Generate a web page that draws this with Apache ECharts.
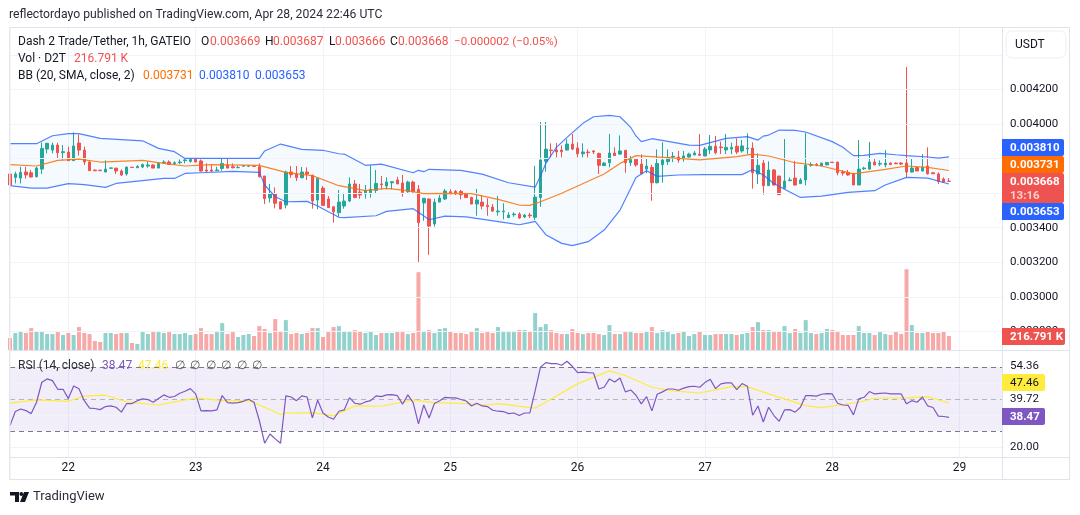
<!DOCTYPE html>
<html><head><meta charset="utf-8">
<style>html,body{margin:0;padding:0;background:#fff}#c{width:1080px;height:515px}</style>
<script src="https://cdn.jsdelivr.net/npm/echarts@6/dist/echarts.min.js"></script>
</head><body><div id="c"></div>
<script>
// Prices are in millionths of USDT (3669 = 0.003669)
const opens=[3711,3691,3687,3722,3718,3695,3739,3855,3849,3878,3834,3838,3788,3890,3849,3780,3733,3733,3722,3744,3745,3728,3711,3750,3747,3751,3757,3763,3745,3776,3780,3770,3776,3788,3784,3797,3786,3734,3734,3730,3743,3763,3753,3747,3756,3756,3756,3753,3699,3572,3595,3550,3531,3722,3711,3689,3722,3703,3560,3629,3566,3521,3487,3525,3554,3653,3606,3595,3602,3616,3653,3641,3660,3676,3658,3608,3664,3622,3543,3566,3421,3548,3566,3608,3610,3610,3595,3575,3537,3548,3529,3519,3492,3492,3458,3475,3479,3462,3473,3460,3574,3784,3849,3849,3849,3849,3884,3861,3828,3838,3844,3830,3759,3776,3832,3826,3848,3776,3795,3768,3739,3749,3660,3765,3782,3809,3809,3803,3809,3821,3826,3815,3850,3871,3867,3850,3855,3871,3844,3857,3861,3711,3774,3643,3734,3699,3628,3672,3687,3655,3676,3761,3766,3757,3763,3779,3780,3722,3720,3714,3647,3741,3739,3780,3768,3763,3774,3774,3774,3774,3722,3749,3728,3757,3718,3711,3682,3669];
const closes=[3647,3711,3720,3705,3693,3745,3859,3888,3878,3834,3840,3788,3873,3849,3780,3730,3729,3730,3739,3746,3728,3705,3751,3748,3755,3765,3763,3745,3772,3780,3766,3776,3780,3792,3795,3780,3728,3728,3728,3734,3772,3745,3747,3749,3758,3758,3754,3695,3568,3595,3541,3508,3722,3707,3689,3722,3711,3554,3684,3529,3516,3492,3548,3554,3653,3575,3589,3616,3622,3656,3649,3664,3666,3653,3604,3664,3608,3429,3570,3409,3548,3572,3612,3602,3601,3591,3574,3537,3560,3525,3521,3496,3496,3496,3473,3479,3456,3473,3469,3577,3792,3855,3846,3838,3840,3884,3855,3828,3838,3834,3838,3761,3774,3832,3817,3844,3776,3794,3763,3712,3757,3660,3772,3792,3807,3813,3792,3815,3826,3832,3819,3855,3871,3834,3863,3865,3865,3838,3873,3861,3718,3761,3643,3734,3647,3591,3670,3676,3647,3676,3761,3766,3763,3774,3778,3777,3718,3716,3705,3647,3739,3745,3780,3763,3772,3774,3765,3770,3768,3722,3745,3728,3749,3712,3712,3668,3664,3668];
const highs=[3772,3724,3753,3753,3734,3753,3892,3892,3892,3892,3878,3869,3952,3940,3869,3788,3738,3735,3790,3747,3745,3738,3753,3751,3761,3772,3782,3768,3780,3790,3790,3784,3795,3801,3803,3799,3795,3772,3761,3753,3799,3799,3772,3759,3759,3761,3757,3772,3699,3653,3633,3554,3730,3757,3757,3751,3749,3707,3684,3641,3583,3521,3618,3602,3691,3676,3653,3647,3761,3734,3699,3691,3670,3695,3705,3672,3672,3647,3570,3570,3568,3589,3624,3622,3618,3618,3595,3579,3624,3589,3570,3537,3583,3541,3489,3489,3489,3479,3485,3757,4012,4012,3888,3890,3877,3911,3942,3894,3888,3853,3849,3834,3780,3942,3865,3934,3849,3815,3795,3824,3801,3763,3853,3894,3853,3838,3844,3844,3834,3844,3942,3867,3936,3931,3898,3942,3892,3917,3907,3946,3894,3830,3792,3784,3739,3699,3913,3691,3786,3687,3950,3778,3774,3774,3778,3779,3780,3734,3734,3714,3907,3753,3896,3797,3790,3849,3778,3778,3780,4330,3803,3751,3826,3865,3720,3720,3691,3687];
const lows=[3647,3656,3656,3684,3691,3691,3711,3830,3830,3801,3788,3788,3786,3817,3763,3730,3728,3729,3722,3743,3711,3699,3701,3747,3745,3745,3747,3745,3745,3768,3765,3763,3768,3772,3776,3780,3724,3722,3722,3728,3730,3743,3743,3745,3755,3753,3753,3691,3537,3545,3512,3508,3512,3689,3670,3687,3676,3510,3506,3529,3514,3429,3463,3510,3550,3570,3568,3568,3574,3599,3622,3622,3622,3653,3579,3602,3602,3197,3440,3243,3406,3548,3560,3593,3589,3564,3572,3535,3469,3506,3469,3492,3469,3448,3456,3463,3450,3456,3456,3444,3521,3724,3807,3807,3807,3849,3849,3807,3807,3807,3826,3711,3757,3749,3815,3821,3718,3757,3753,3711,3714,3556,3656,3660,3763,3780,3776,3782,3805,3821,3815,3815,3826,3824,3826,3826,3826,3826,3834,3826,3626,3653,3591,3643,3643,3591,3626,3670,3643,3653,3645,3753,3755,3757,3763,3777,3703,3701,3701,3647,3647,3734,3734,3763,3757,3749,3763,3768,3763,3691,3720,3728,3726,3707,3711,3653,3662,3666];
// Volumes in thousands
const volumes=[186,264,279,264,341,295,295,248,248,279,233,264,233,357,264,248,140,124,264,264,248,264,264,109,93,279,248,279,279,264,279,248,248,264,233,248,341,248,248,279,419,248,279,202,233,248,217,372,326,264,481,279,465,248,264,248,264,341,341,202,279,357,372,295,279,310,279,264,295,233,264,264,264,279,279,248,264,1210,279,310,264,326,341,295,264,264,248,279,341,264,295,264,357,279,279,279,310,310,279,574,357,403,310,264,248,248,326,264,248,264,264,248,233,388,248,248,279,279,264,264,279,357,264,310,279,248,264,295,217,248,295,233,233,248,248,248,248,233,248,264,357,434,310,310,279,295,372,264,326,264,465,264,248,264,326,310,279,233,233,233,372,264,264,233,279,248,233,279,248,1256,388,264,264,295,264,264,295,217];
const rsi=[33.3,42.1,43.7,42.7,40.8,47.9,60.4,62.5,61.4,56.0,56.0,50.2,58.1,56.4,48.9,44.2,44.0,43.3,45.2,45.6,44.8,41.7,47.1,47.1,48.9,50.0,49.6,47.9,50.2,52.5,51.0,51.5,53.5,54.8,56.4,53.1,42.5,42.7,42.5,43.1,52.1,47.7,47.3,47.7,48.5,49.8,47.9,36.5,22.3,28.1,25.0,22.3,51.9,51.2,48.9,51.9,51.2,38.1,49.2,41.2,38.7,37.3,42.3,43.1,50.8,47.3,46.7,48.1,48.9,51.9,51.4,52.5,52.7,52.1,46.7,52.5,47.7,34.4,46.2,38.1,47.1,48.9,51.0,50.6,50.6,49.6,48.7,45.6,47.3,45.6,45.2,42.9,42.3,42.1,40.8,41.2,39.6,41.2,41.2,55.2,69.8,72.7,72.1,72.1,71.0,73.5,70.4,66.4,66.7,66.4,66.2,56.2,57.3,62.5,60.6,63.1,54.4,55.6,52.3,46.9,51.4,42.5,52.9,54.4,56.2,56.2,55.4,56.7,57.7,57.9,57.3,60.2,62.3,56.4,59.4,60.0,60.0,55.8,59.6,57.9,39.8,45.6,35.6,44.8,39.6,36.0,43.1,43.3,41.7,44.8,52.1,52.1,51.7,52.9,53.3,53.1,47.3,46.2,46.0,40.0,50.0,51.0,54.6,53.1,53.5,53.7,53.1,53.1,53.1,46.9,48.9,47.9,51.2,45.6,44.6,39.2,39.0,38.47];
// Read vertices: [candle index, value]
const bbUpper=[[0,3886],[5,3886],[8,3932],[11,3944],[13,3944],[17,3917],[25,3903],[28,3859],[31,3840],[33,3801],[47,3801],[48,3844],[51,3884],[55,3853],[59,3848],[62,3828],[63,3826],[67,3761],[70,3768],[76,3718],[77,3732],[78,3724],[79,3738],[85,3732],[89,3710],[94,3660],[99,3635],[100,3699],[101,3772],[103,3865],[105,3923],[108,4004],[110,4042],[113,4050],[115,4042],[117,3981],[118,3931],[119,3898],[121,3915],[124,3900],[128,3878],[130,3876],[135,3917],[139,3927],[141,3907],[142,3930],[143,3936],[145,3965],[148,3963],[150,3954],[155,3898],[157,3865],[159,3817],[161,3819],[164,3830],[167,3822],[169,3817],[173,3809],[175,3803],[177,3810]];
const bbLower=[[0,3643],[4,3629],[7,3629],[11,3655],[14,3649],[18,3633],[20,3656],[25,3672],[29,3685],[31,3685],[33,3714],[36,3718],[42,3726],[47,3720],[48,3647],[50,3579],[52,3550],[56,3552],[58,3525],[60,3492],[62,3460],[63,3458],[69,3469],[71,3494],[76,3510],[77,3489],[79,3446],[82,3467],[86,3463],[93,3431],[96,3417],[98,3429],[99,3436],[101,3359],[104,3309],[106,3296],[109,3319],[112,3386],[115,3502],[117,3627],[118,3691],[120,3730],[122,3697],[126,3705],[131,3707],[138,3707],[140,3737],[142,3705],[144,3656],[146,3622],[149,3575],[153,3583],[158,3604],[163,3614],[165,3647],[169,3691],[173,3687],[177,3653]];
const bbBasis=[[0,3765],[5,3757],[9,3790],[13,3797],[17,3780],[25,3790],[29,3772],[33,3757],[38,3765],[47,3761],[52,3720],[57,3701],[62,3643],[67,3614],[71,3628],[75,3614],[78,3597],[82,3599],[87,3597],[92,3564],[96,3531],[98,3529],[100,3550],[104,3599],[112,3711],[115,3772],[118,3817],[121,3811],[126,3801],[130,3792],[137,3811],[140,3826],[143,3815],[148,3776],[153,3757],[159,3711],[165,3737],[169,3757],[173,3749],[177,3731]];
const rsiMA=[[0,47.3],[5,49.4],[11,48.5],[14,51.7],[18,52.3],[22,48.1],[28,46.2],[35,50.6],[40,48.9],[45,48.9],[48,44.8],[51,40.2],[52,41.2],[57,41.4],[61,39.4],[65,45.6],[70,45.4],[76,49.4],[80,47.7],[86,47.1],[90,46.2],[92,47.1],[99,44.2],[107,59.4],[113,67.5],[116,64.6],[121,57.3],[125,55.0],[130,53.7],[136,57.7],[139,57.7],[143,53.1],[150,45.8],[153,44.6],[160,47.9],[163,50.4],[169,50.6],[173,51.4],[177,47.46]];
const dayTicks=['22','23','24','25','26','27','28','29'];
const priceTicks=[2800,3000,3200,3400,3600,3800,4000,4200,4400];
const rsiGrid=[20,40,60];

const UP='#26a69a',DOWN='#ef5350',GRIDC='#f0f3fa',BORDER='#e0e3eb',TXT='#131722',FONT='Roboto';
const HOURS=188, FIRST_MIDNIGHT=11;
const categories=[];
for(let i=0;i<HOURS;i++){const k=i-FIRST_MIDNIGHT;categories.push(k>=0&&k%24===0?(dayTicks[k/24]||''):'h'+i);}
const isDay=(i)=>(i-FIRST_MIDNIGHT)>=0&&(i-FIRST_MIDNIGHT)%24===0;

const chart=echarts.init(document.getElementById('c'),null,{renderer:'canvas'});
function xAxisOf(g,showLabel){return {type:'category',gridIndex:g,data:categories,boundaryGap:false,
  axisLine:{show:false},axisTick:{show:false},
  axisLabel:{show:showLabel,interval:(i)=>isDay(i),color:TXT,fontFamily:FONT,fontSize:12,margin:4,hideOverlap:false},
  splitLine:{show:g!==1,interval:(i)=>isDay(i),lineStyle:{color:GRIDC,width:1}}};}
function txt(x,y,t,color,opt){return Object.assign({type:'text',x,y,z:110,silent:true,
  style:Object.assign({text:t,fill:color||TXT,font:'12px '+FONT,textVerticalAlign:'middle',textAlign:'left'},opt||{})});}
function tag(x,y,w,h,fill){return {type:'rect',z:105,silent:true,shape:{x,y,width:w,height:h,r:[0,2,2,0]},style:{fill}};}
function line(x1,y1,x2,y2,color){return {type:'line',z:104,silent:true,shape:{x1,y1,x2,y2},style:{stroke:color||BORDER,lineWidth:1}};}

chart.setOption({
 animation:false,backgroundColor:'#fff',
 textStyle:{fontFamily:FONT},
 grid:[
  {left:10,right:78,top:27.3,height:323},
  {left:10,right:78,top:260,height:90},
  {left:10,right:78,top:350.9,height:107.2}],
 xAxis:[xAxisOf(0,false),xAxisOf(1,false),xAxisOf(2,true)],
 yAxis:[
  {type:'value',gridIndex:0,position:'right',min:2690,max:4560,interval:10,scale:true,
   axisLine:{show:false},axisTick:{show:false},splitLine:{show:false},
   axisLabel:{margin:8,color:TXT,fontFamily:FONT,fontSize:11.5,hideOverlap:false,showMinLabel:false,showMaxLabel:false,
     formatter:(v)=>{const r=Math.round(v);return (r<=4200&&priceTicks.includes(r))?(r/1e6).toFixed(6):'';}}},
  {type:'value',gridIndex:1,min:0,max:1400,axisLine:{show:false},axisTick:{show:false},splitLine:{show:false},axisLabel:{show:false}},
  {type:'value',gridIndex:2,min:13,max:80,axisLine:{show:false},axisTick:{show:false},splitLine:{show:false},axisLabel:{show:false}}],
 series:[
  {type:'line',xAxisIndex:0,yAxisIndex:0,data:[],silent:true,z:1,
   markLine:{silent:true,symbol:'none',label:{show:false},lineStyle:{color:GRIDC,width:1,type:'solid'},
     data:priceTicks.map(v=>({yAxis:v}))}},
  {type:'custom',xAxisIndex:0,yAxisIndex:0,z:2,silent:true,clip:true,
   data:[[0,3700]],encode:{x:0,y:1},
   renderItem:(p,api)=>{const pts=bbUpper.map(d=>api.coord(d)).concat(bbLower.slice().reverse().map(d=>api.coord(d)));
     return {type:'polygon',shape:{points:pts},style:{fill:'rgba(33,150,243,0.05)'}};}},
  {type:'bar',xAxisIndex:1,yAxisIndex:1,z:3,barWidth:4,silent:true,
   data:volumes.map((v,i)=>({value:v,itemStyle:{color:closes[i]>=opens[i]?'rgba(38,166,154,0.5)':'rgba(239,83,80,0.5)'}}))},
  {type:'candlestick',xAxisIndex:0,yAxisIndex:0,z:4,barWidth:3,silent:true,clip:true,
   itemStyle:{color:UP,color0:DOWN,borderColor:UP,borderColor0:DOWN,borderColorDoji:DOWN,borderWidth:1},
   data:opens.map((o,i)=>[o,closes[i],lows[i],highs[i]])},
  {type:'line',xAxisIndex:0,yAxisIndex:0,z:5,data:bbUpper,showSymbol:false,silent:true,lineStyle:{color:'#2962ff',width:1.2,opacity:.8}},
  {type:'line',xAxisIndex:0,yAxisIndex:0,z:5,data:bbLower,showSymbol:false,silent:true,lineStyle:{color:'#2962ff',width:1.2,opacity:.8}},
  {type:'line',xAxisIndex:0,yAxisIndex:0,z:5,data:bbBasis,showSymbol:false,silent:true,lineStyle:{color:'#ff6d00',width:1.2,opacity:.85}},
  {type:'line',xAxisIndex:2,yAxisIndex:2,data:[],z:1,silent:true,
   markArea:{silent:true,itemStyle:{color:'rgba(126,87,194,0.1)'},data:[[{yAxis:30},{yAxis:70}]]},
   markLine:{silent:true,symbol:'none',label:{show:false},
     data:rsiGrid.map(v=>({yAxis:v,lineStyle:{color:GRIDC,width:1,type:'solid'}}))
       .concat([70,30].map(v=>({yAxis:v,lineStyle:{color:'#787b86',width:1,type:[5,4]}})))
       .concat([{yAxis:50,lineStyle:{color:'rgba(120,123,134,.5)',width:1,type:[5,4]}}])}},
  {type:'line',xAxisIndex:2,yAxisIndex:2,z:5,data:rsiMA,showSymbol:false,silent:true,lineStyle:{color:'#ffeb3b',width:1.2}},
  {type:'line',xAxisIndex:2,yAxisIndex:2,z:6,data:rsi,showSymbol:false,silent:true,lineStyle:{color:'#7e57c2',width:1.2}}
 ],
 graphic:{elements:[
  {type:'rect',z:103,silent:true,shape:{x:9.5,y:27.5,width:1060,height:452},style:{fill:'none',stroke:BORDER,lineWidth:1}},
  line(10,28,10,479,'#e9ebf1'),
  line(1002.5,28,1002.5,479),line(10,457.5,1070,457.5),line(10,350.5,1070,350.5),
  {type:'rect',z:106,silent:true,shape:{x:1006,y:31,width:60,height:27,r:6},style:{fill:'#fff',stroke:'#eceef3',lineWidth:1}},
  txt(1015,45,'USDT'),
  txt(9,15,'reflectordayo published on TradingView.com, Apr 28, 2024 22:46 UTC','#2a2e39',{font:'12.2px '+FONT}),
  txt(18,42,'Dash 2 Trade/Tether, 1h, GATEIO'),
  txt(201,42,'O'),txt(210,42,'0.003669',DOWN),
  txt(265,42,'H'),txt(273,42,'0.003687',DOWN),
  txt(329,42,'L'),txt(335,42,'0.003666',DOWN),
  txt(390,42,'C'),txt(398,42,'0.003668',DOWN),
  txt(454,42,'−0.000002 (−0.05%)',DOWN,{font:'11.6px '+FONT}),
  txt(18,59,'Vol · D2T'),txt(74,59,'216.791 K',DOWN),
  txt(18,76,'BB (20, SMA, close, 2)'),
  txt(143,76,'0.003731','#ff6d00'),txt(199,76,'0.003810','#2962ff'),txt(255,76,'0.003653','#2962ff'),
  tag(1002,139,62,17,'#2962ff'),txt(1010,148,'0.003810','#fff',{font:'bold 11.5px '+FONT}),
  tag(1002,156,62,17,'#ff6d00'),txt(1010,165,'0.003731','#fff',{font:'bold 11.5px '+FONT}),
  tag(1002,173,62,30,DOWN),txt(1010,182,'0.003668','#fff',{font:'bold 11.5px '+FONT}),txt(1010,196,'13:16','#fbd0ce',{font:'bold 11.5px '+FONT}),
  tag(1002,203,62,17,'#2962ff'),txt(1010,212,'0.003653','#fff',{font:'bold 11.5px '+FONT}),
  tag(1002,328,63,17,DOWN),txt(1010,337,'216.791 K','#fff',{font:'bold 11.5px '+FONT}),
  txt(1010,366,'54.36',TXT,{font:'11.5px '+FONT}),
  tag(1002,374,43,17,'#ffeb3b'),txt(1010,383,'47.46',TXT,{font:'11.5px '+FONT}),
  txt(1010,399,'39.72',TXT,{font:'11.5px '+FONT}),
  tag(1002,408,43,17,'#7e57c2'),txt(1010,417,'38.47','#fff',{font:'bold 11.5px '+FONT}),
  txt(1010,447,'20.00',TXT,{font:'11.5px '+FONT}),
  txt(18,366,'RSI (14, close)','#2a2e39'),txt(102,366,'38.47','#7e57c2'),txt(138,366,'47.46','#ffeb3b'),
  txt(175,366,'∅','#555'),txt(190,366,'∅','#555'),txt(206,366,'∅','#555'),txt(221,366,'∅','#555'),txt(237,366,'∅','#555'),txt(252,366,'∅','#555'),
  {type:'polygon',z:110,silent:true,shape:{points:[[10,492],[19,492],[19,502],[15,502],[15,495.5],[10,495.5]]},style:{fill:'#131722'}},
  {type:'circle',z:110,silent:true,shape:{cx:21.3,cy:494,r:1.9},style:{fill:'#131722'}},
  {type:'polygon',z:110,silent:true,shape:{points:[[24,492],[29,492],[25,502],[20,502]]},style:{fill:'#131722'}},
  txt(33,497,'TradingView','#2a2e39',{font:'13px '+FONT})
 ]}
});
</script></body></html>
